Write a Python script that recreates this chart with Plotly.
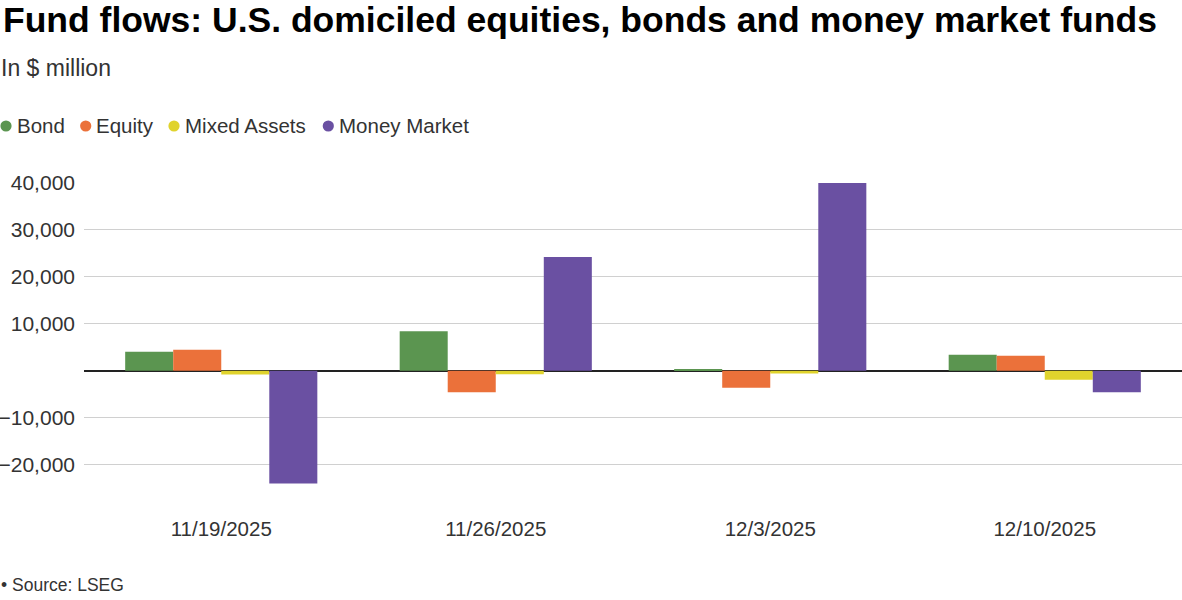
import plotly.graph_objects as go

dates = ["11/19/2025", "11/26/2025", "12/3/2025", "12/10/2025"]
bond = [4040, 8430, 280, 3400]
equity = [4470, -4550, -3620, 3190]
mixed = [-790, -720, -570, -1920]
money = [-23980, 24260, 40000, -4550]

series_names = ["Bond", "Equity", "Mixed Assets", "Money Market"]
series_values = [bond, equity, mixed, money]
colors = ["#5b9550", "#eb713a", "#e0d32d", "#6a50a2"]

FONT = "Liberation Sans, Arial, Helvetica, sans-serif"

W, H = 1182, 600
ML, MR, MT, MB = 84, 0, 183, 93
PW = W - ML - MR
PH = H - MT - MB

def px_x(x):
    return (x - ML) / PW

def px_y(y):
    return (H - MB - y) / PH

fig = go.Figure()
for name, vals, c in zip(series_names, series_values, colors):
    fig.add_trace(go.Bar(x=dates, y=vals, name=name, marker=dict(color=c, line=dict(width=0)),
                         showlegend=False))

fig.update_layout(
    width=W, height=H,
    margin=dict(l=ML, r=MR, t=MT, b=MB, autoexpand=False),
    paper_bgcolor="white", plot_bgcolor="white",
    barmode="group", bargap=0.30, bargroupgap=0,
    font=dict(family=FONT, size=20, color="#333333"),
    showlegend=False,
    xaxis=dict(showgrid=False, showline=False, zeroline=False, ticks="outside",
               ticklen=3, tickcolor="rgba(0,0,0,0)", automargin=False,
               tickfont=dict(size=20.5, color="#333333")),
    yaxis=dict(range=[-29000, 40000], tickvals=[-20000, -10000, 10000, 20000, 30000, 40000],
               tickformat=",", showgrid=True, gridcolor="#d0d0d0", gridwidth=1,
               zeroline=True, zerolinecolor="#222222", zerolinewidth=1.5,
               showline=False, ticks="", automargin=False,
               tickfont=dict(size=21, color="#333333"), ticklabelstandoff=8),
)

# Legend (circle symbols + labels) laid out like the reference
legend_circle_x = [6, 85.7, 174, 328.3]
legend_y = 126
r = 5.6
for name, c, cx in zip(series_names, colors, legend_circle_x):
    fig.add_shape(type="circle", xref="paper", yref="paper",
                  x0=px_x(cx - r), x1=px_x(cx + r), y0=px_y(legend_y + r), y1=px_y(legend_y - r),
                  fillcolor=c, line=dict(width=0))
    fig.add_annotation(text=name, xref="paper", yref="paper", x=px_x(cx + 8.5),
                       y=px_y(125), xanchor="left", yanchor="middle", showarrow=False,
                       font=dict(family=FONT, size=20.5, color="#333333"))

fig.add_annotation(text="Fund flows: U.S. domiciled equities, bonds and money market funds",
                   xref="paper", yref="paper", x=px_x(1), y=px_y(20), xanchor="left",
                   yanchor="middle", showarrow=False,
                   font=dict(family=FONT, size=35.5, color="#000000", weight=600))
fig.add_annotation(text="In $ million", xref="paper", yref="paper", x=px_x(-1),
                   y=px_y(68), xanchor="left", yanchor="middle", showarrow=False,
                   font=dict(family=FONT, size=23, color="#333333"))
fig.add_annotation(text="• Source: LSEG", xref="paper", yref="paper", x=px_x(-1),
                   y=px_y(585), xanchor="left", yanchor="middle", showarrow=False,
                   font=dict(family=FONT, size=17.5, color="#333333"))

fig.write_html("out.html", config={"displayModeBar": False},
               post_script="document.body.style.margin='0';")
